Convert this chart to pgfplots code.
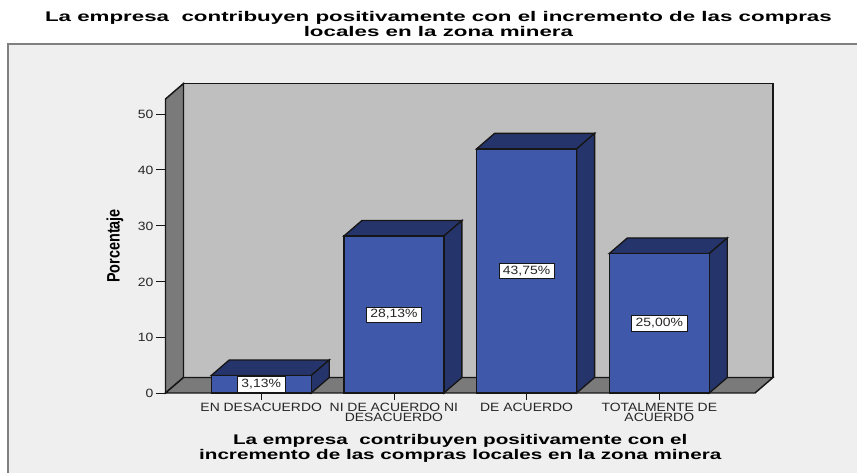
\documentclass[border=0pt]{standalone}
\usepackage{pgfplots}
\pgfplotsset{compat=1.18}
\usepackage{fontspec}
\setmainfont{Liberation Sans}
\newfontfamily\tickf[FakeStretch=1.16]{Liberation Sans}
\newfontfamily\titlef[FakeStretch=1.595]{Liberation Sans}
\newfontfamily\xlabf[FakeStretch=1.475]{Liberation Sans}
\newfontfamily\ylabf[FakeStretch=0.8]{Liberation Sans}
\definecolor{outerbg}{HTML}{EFEFEF}
\definecolor{outerln}{HTML}{808080}
\definecolor{wall}{HTML}{BFBFBF}
\definecolor{sidew}{HTML}{7A7A7A}
\definecolor{barf}{HTML}{3F58AA}
\definecolor{bars}{HTML}{26346C}
\definecolor{edge}{HTML}{161616}
\begin{document}
\begin{tikzpicture}
\path[use as bounding box] (0pt,0pt) rectangle (642.75pt,-354.75pt);
\fill[outerbg] (6pt,-33pt) rectangle (642.75pt,-354.75pt);
\draw[outerln,line width=1.2pt] (6pt,-354.75pt) -- (6pt,-33pt) -- (642.75pt,-33pt);
\begin{axis}[
  at={(124.125pt,-294.75pt)}, anchor=south west,
  scale only axis, width=442.125pt, height=209.25pt,
  xmin=-0.7212, xmax=3.7212, ymin=0, ymax=50,
  clip=false,
  axis line style={draw=none},
  xtick={0,1,2,3},
  xticklabels={{EN DESACUERDO},{NI DE ACUERDO NI\\DESACUERDO},{DE ACUERDO},{TOTALMENTE DE\\ACUERDO}},
  ytick={0,10,20,30,40,50},
  xtick pos=bottom, ytick pos=left,
  tick align=outside,
  major tick length=7.5pt,
  x tick style={draw=none},
  y tick style={draw=edge,line width=0.6pt},
  /pgf/number format/assume math mode=true,
  yticklabel style={font=\fontsize{9}{10}\selectfont\tickf, color=black!85, xshift=2pt, yshift=-0.5pt},
  xticklabel style={font=\fontsize{9}{7.5}\selectfont\tickf, color=black!85, align=center, yshift=1.2pt, inner ysep=1pt},
  title={La empresa\ \ contribuyen positivamente con el incremento de las compras\\locales en la zona minera},
  title style={at={(axis description cs:0.463,1.2939)},anchor=center,align=center,font=\fontsize{10.5}{11.6}\selectfont\titlef\bfseries},
  xlabel={La empresa\ \ contribuyen positivamente con el\\incremento de las compras locales en la zona minera},
  xlabel style={at={(axis description cs:0.5,-0.2)},anchor=center,align=center,font=\fontsize{10.5}{11.25}\selectfont\xlabf\bfseries},
  ylabel={Porcentaje},
  ylabel style={at={(axis description cs:-0.0857,0.527)},anchor=center,font=\fontsize{13.5}{14}\selectfont\ylabf\bfseries},
]
% walls
\addplot[fill=wall,draw=edge,line width=1.1pt] coordinates {(-0.5855,2.78) (3.8568,2.78) (3.8568,55.47) (-0.5855,55.47)} -- cycle;
\addplot[fill=sidew,draw=edge,line width=1.1pt] coordinates {(-0.7212,0) (-0.7212,52.69) (-0.5855,55.47) (-0.5855,2.78)} -- cycle;
\addplot[fill=sidew,draw=edge,line width=1.1pt] coordinates {(-0.7212,0) (3.7212,0) (3.8568,2.78) (-0.5855,2.78)} -- cycle;
% x tick marks
\addplot[edge,line width=0.6pt] coordinates {(0,0) (0,-1.25)};
\addplot[edge,line width=0.6pt] coordinates {(1,0) (1,-1.25)};
\addplot[edge,line width=0.6pt] coordinates {(2,0) (2,-1.25)};
\addplot[edge,line width=0.6pt] coordinates {(3,0) (3,-1.25)};
% bar tops
\addplot[fill=bars,draw=edge,line width=1pt] coordinates {(-0.3768,3.13) (0.3768,3.13) (0.5125,5.91) (-0.2411,5.91)} -- cycle;
\addplot[fill=bars,draw=edge,line width=1pt] coordinates {(0.6232,28.13) (1.3768,28.13) (1.5125,30.91) (0.7589,30.91)} -- cycle;
\addplot[fill=bars,draw=edge,line width=1pt] coordinates {(1.6232,43.75) (2.3768,43.75) (2.5125,46.53) (1.7589,46.53)} -- cycle;
\addplot[fill=bars,draw=edge,line width=1pt] coordinates {(2.6232,25) (3.3768,25) (3.5125,27.78) (2.7589,27.78)} -- cycle;
% bar sides
\addplot[fill=bars,draw=edge,line width=1pt] coordinates {(0.3768,0) (0.3768,3.13) (0.5125,5.91) (0.5125,2.78)} -- cycle;
\addplot[fill=bars,draw=edge,line width=1pt] coordinates {(1.3768,0) (1.3768,28.13) (1.5125,30.91) (1.5125,2.78)} -- cycle;
\addplot[fill=bars,draw=edge,line width=1pt] coordinates {(2.3768,0) (2.3768,43.75) (2.5125,46.53) (2.5125,2.78)} -- cycle;
\addplot[fill=bars,draw=edge,line width=1pt] coordinates {(3.3768,0) (3.3768,25) (3.5125,27.78) (3.5125,2.78)} -- cycle;
% bar fronts
\addplot[ybar,bar width=75pt,bar shift=0pt,fill=barf,draw=edge,line width=1pt] coordinates {(0,3.13) (1,28.13) (2,43.75) (3,25)};
% value labels
\addplot[only marks,mark=none,point meta=explicit symbolic,
  nodes near coords,
  every node near coord/.style={anchor=center,fill=white,draw=edge,line width=0.5pt,inner xsep=3pt,inner ysep=2pt,font=\fontsize{9}{10}\selectfont\tickf,text=black!85}]
  coordinates {(0,1.565)[3,13\%] (1,14.065)[28,13\%] (2,21.875)[43,75\%] (3,12.5)[25,00\%]};
\end{axis}
\end{tikzpicture}
\end{document}
